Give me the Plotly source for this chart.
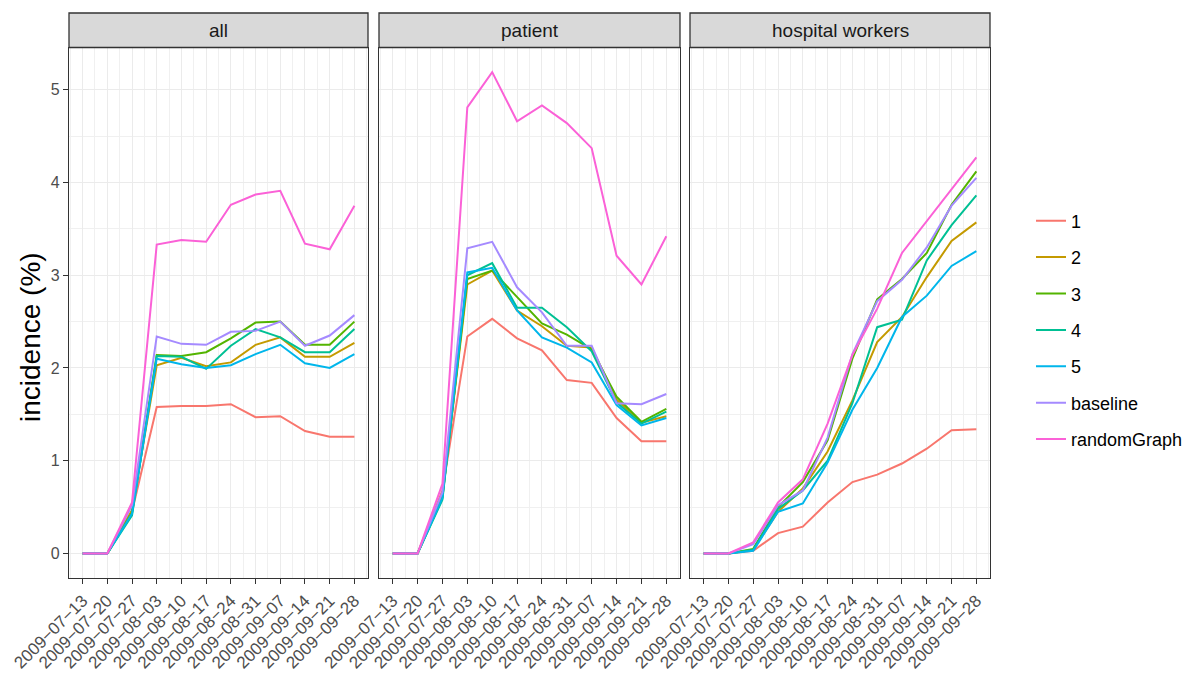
import plotly.graph_objects as go

# weekly dates and facet panels
dates = ["2009-07-13", "2009-07-20", "2009-07-27", "2009-08-03", "2009-08-10", "2009-08-17",
         "2009-08-24", "2009-08-31", "2009-09-07", "2009-09-14", "2009-09-21", "2009-09-28"]
date_labels = [d.replace("-", "\u2212") for d in dates]
panels = ["all", "patient", "hospital workers"]
series = ["1", "2", "3", "4", "5", "baseline", "randomGraph"]
colors = ["#F8766D", "#C49A00", "#53B400", "#00C094", "#00B6EB", "#A58AFF", "#FB61D7"]

# incidence (%) per panel, per series
all_vals = {
    "1": [0, 0, 0.45, 1.58, 1.59, 1.59, 1.61, 1.47, 1.48, 1.32, 1.26, 1.26],
    "2": [0, 0, 0.47, 2.03, 2.11, 2.02, 2.06, 2.25, 2.33, 2.12, 2.12, 2.27],
    "3": [0, 0, 0.44, 2.14, 2.13, 2.17, 2.32, 2.49, 2.50, 2.25, 2.25, 2.50],
    "4": [0, 0, 0.41, 2.13, 2.12, 1.99, 2.24, 2.42, 2.33, 2.17, 2.17, 2.42],
    "5": [0, 0, 0.43, 2.10, 2.04, 2.00, 2.03, 2.15, 2.25, 2.05, 2.00, 2.15],
    "baseline": [0, 0, 0.52, 2.34, 2.26, 2.25, 2.39, 2.40, 2.50, 2.24, 2.35, 2.57],
    "randomGraph": [0, 0, 0.55, 3.33, 3.38, 3.36, 3.76, 3.87, 3.91, 3.34, 3.28, 3.75],
}
patient_vals = {
    "1": [0, 0, 0.68, 2.34, 2.53, 2.32, 2.19, 1.87, 1.84, 1.46, 1.21, 1.21],
    "2": [0, 0, 0.62, 2.90, 3.05, 2.62, 2.45, 2.24, 2.22, 1.66, 1.41, 1.48],
    "3": [0, 0, 0.60, 2.96, 3.05, 2.76, 2.48, 2.36, 2.20, 1.69, 1.42, 1.56],
    "4": [0, 0, 0.58, 3.00, 3.13, 2.65, 2.65, 2.44, 2.18, 1.63, 1.40, 1.53],
    "5": [0, 0, 0.60, 3.03, 3.08, 2.62, 2.33, 2.22, 2.06, 1.60, 1.38, 1.46],
    "baseline": [0, 0, 0.66, 3.29, 3.36, 2.87, 2.60, 2.24, 2.24, 1.62, 1.61, 1.72],
    "randomGraph": [0, 0, 0.75, 4.81, 5.19, 4.66, 4.83, 4.64, 4.37, 3.21, 2.90, 3.42],
}
worker_vals = {
    "1": [0, 0, 0.03, 0.22, 0.29, 0.55, 0.77, 0.85, 0.97, 1.13, 1.33, 1.34],
    "2": [0, 0, 0.04, 0.45, 0.70, 1.10, 1.65, 2.28, 2.55, 2.98, 3.37, 3.57],
    "3": [0, 0, 0.05, 0.50, 0.77, 1.22, 2.10, 2.74, 2.96, 3.24, 3.76, 4.12],
    "4": [0, 0, 0.04, 0.48, 0.68, 1.00, 1.62, 2.44, 2.52, 3.16, 3.54, 3.86],
    "5": [0, 0, 0.03, 0.45, 0.54, 0.98, 1.55, 2.00, 2.55, 2.78, 3.10, 3.26],
    "baseline": [0, 0, 0.10, 0.52, 0.68, 1.25, 2.15, 2.72, 2.95, 3.30, 3.75, 4.05],
    "randomGraph": [0, 0, 0.12, 0.55, 0.80, 1.40, 2.14, 2.64, 3.24, 3.58, 3.92, 4.27],
}
panel_data = [all_vals, patient_vals, worker_vals]

# the page puts the plot 8px in from the top-left corner
OFF = 8
W, H = 1195 - OFF, 673 - OFF


def px(x):
    return (x - OFF) / W


def py(y):
    return 1 - (y - OFF) / H


x_px = [(69, 368), (379, 680), (690, 990)]
y_dom = [py(578), py(47.5)]
strip_dom = [py(47.5), py(13)]

fig = go.Figure()
for p, vals in enumerate(panel_data):
    sfx = "" if p == 0 else str(p + 1)
    for s, c in zip(series, colors):
        fig.add_trace(go.Scatter(
            x=dates, y=vals[s], mode="lines", name=s,
            line=dict(color=c, width=2),
            xaxis="x" + sfx, yaxis="y" + sfx,
            legendgroup=s, showlegend=(p == 0),
        ))

grid = dict(showgrid=True, gridcolor="#EBEBEB", gridwidth=1.2, automargin=False,
            showline=True, mirror=True, linecolor="#333333", linewidth=1.3,
            zeroline=False, ticks="outside", ticklen=5, tickwidth=1.1, tickcolor="#333333",
            tickfont=dict(family="Liberation Sans, Arial", size=16, color="#4D4D4D"))

layout = dict(
    width=W, height=H, margin=dict(l=0, r=0, t=0, b=0, autoexpand=False),
    paper_bgcolor="white", plot_bgcolor="white",
    legend=dict(x=px(1031), y=py(330), xanchor="left", yanchor="middle",
                font=dict(family="Liberation Sans, Arial", size=18, color="black"),
                tracegroupgap=10, itemwidth=30, bgcolor="rgba(0,0,0,0)"),
    shapes=[], annotations=[],
)

for p in range(3):
    sfx = "" if p == 0 else str(p + 1)
    x0, x1 = x_px[p]
    layout["xaxis" + sfx] = dict(
        grid, domain=[px(x0), px(x1)], anchor="y" + sfx, type="date",
        range=["2009-07-09 03:36", "2009-10-01 20:24"],
        tickmode="array", tickvals=dates, ticktext=date_labels, tickangle=-45,
        tickfont=dict(family="Liberation Sans, Arial", size=17, color="#4D4D4D"),
        minor=dict(tick0="2009-07-09 12:00", dtick=7 * 86400000, showgrid=True,
                   gridcolor="#F0F0F0", gridwidth=1, ticklen=0),
    )
    layout["yaxis" + sfx] = dict(
        grid, domain=y_dom, anchor="x" + sfx, range=[-0.264, 5.455],
        tickmode="linear", tick0=0, dtick=1,
        minor=dict(tick0=0.5, dtick=1, showgrid=True, gridcolor="#F0F0F0", gridwidth=1, ticklen=0),
        showticklabels=(p == 0), ticks="outside" if p == 0 else "",
    )
    layout["shapes"].append(dict(
        type="rect", xref="paper", yref="paper", x0=px(x0), x1=px(x1),
        y0=strip_dom[0], y1=strip_dom[1], fillcolor="#D9D9D9",
        line=dict(color="#333333", width=1.3), layer="above"))
    layout["annotations"].append(dict(
        text=panels[p], xref="paper", yref="paper", x=px((x0 + x1) / 2),
        y=(strip_dom[0] + strip_dom[1]) / 2, showarrow=False,
        xanchor="center", yanchor="middle",
        font=dict(family="Liberation Sans, Arial", size=19, color="#1A1A1A")))

layout["annotations"].append(dict(
    text="incidence (%)", xref="paper", yref="paper", x=px(30), y=py(337),
    textangle=-90, showarrow=False, xanchor="center", yanchor="middle",
    font=dict(family="Liberation Sans, Arial", size=28, color="black")))

fig.update_layout(layout)
fig.write_html("out.html")
